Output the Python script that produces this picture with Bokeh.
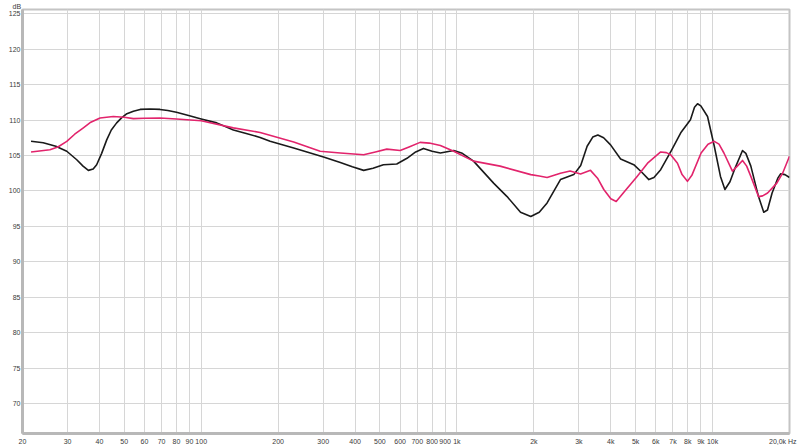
from bokeh.plotting import figure
from bokeh.models import FixedTicker
from bokeh.embed import file_html
from bokeh.resources import INLINE

# ---- data ----
x_ticks = [20, 30, 40, 50, 60, 70, 80, 90, 100, 200, 300, 400, 500, 600, 700, 800, 900,
           1000, 2000, 3000, 4000, 5000, 6000, 7000, 8000, 9000, 10000, 20000]
x_tick_labels = ["20", "30", "40", "50", "60", "70", "80", "90", "100", "200", "300", "400",
                 "500", "600", "700", "800", "900", "1k", "2k", "3k", "4k", "5k", "6k", "7k",
                 "8k", "9k", "10k", "20,0k Hz\u00a0\u00a0"]
y_ticks = [70, 75, 80, 85, 90, 95, 100, 105, 110, 115, 120, 125]
y_unit = "dB"

black_f = [21.6, 24.1, 27.0, 29.8, 32.6, 34.5, 36.2, 37.8, 39, 40.8, 42.7, 44.5, 46.7, 48.8,
           51.2, 54.3, 57.7, 63, 69, 74, 80, 90, 100, 115, 133.6, 150, 170, 186, 230, 301,
           350, 390, 432, 470, 516, 582, 638, 690, 740, 800, 862, 972, 1050, 1162, 1392, 1572,
           1774, 1946, 2100, 2254, 2542, 2866, 3050, 3232, 3400, 3560, 3750, 3992, 4370, 4920,
           5300, 5636, 5900, 6268, 6900, 7510, 8196, 8500, 8736, 9000, 9560, 10160, 10740,
           11180, 11700, 12180, 13100, 13500, 14120, 15130, 15860, 16400, 17100, 18000, 18460,
           19200, 20000]
black_db = [107.0, 106.8, 106.3, 105.6, 104.4, 103.5, 102.9, 103.1, 103.7, 105.3, 107.2, 108.6,
            109.6, 110.3, 110.9, 111.25, 111.5, 111.55, 111.5, 111.35, 111.1, 110.6, 110.15,
            109.6, 108.6, 108.1, 107.55, 107.0, 106.05, 104.8, 104.0, 103.4, 102.9, 103.2,
            103.7, 103.8, 104.6, 105.5, 106.0, 105.6, 105.35, 105.7, 105.3, 104.2, 101.1, 99.2,
            97.0, 96.4, 97.0, 98.3, 101.6, 102.3, 103.6, 106.3, 107.6, 107.9, 107.5, 106.5,
            104.5, 103.7, 102.6, 101.6, 101.9, 103.0, 105.7, 108.2, 110.05, 111.8, 112.3, 112.0,
            110.5, 106.3, 102.05, 100.2, 101.3, 103.0, 105.7, 105.3, 103.5, 99.2, 97.0, 97.3,
            99.7, 101.8, 102.4, 102.3, 101.9]

pink_f = [21.6, 25.6, 27.5, 29.8, 32, 34.6, 37, 40.2, 45.3, 50, 54.3, 60, 69, 80, 100, 133.6,
          170, 230, 292, 350, 432, 480, 532, 600, 650, 718, 780, 862, 972, 1162, 1476, 1946,
          2100, 2254, 2542, 2774, 3046, 3332, 3550, 3756, 4000, 4200, 4500, 5070, 5600, 6268,
          6600, 6860, 7292, 7600, 7976, 8300, 9020, 9600, 10160, 10600, 11080, 11960, 12500,
          13100, 13600, 14120, 15130, 15700, 16420, 17840, 18800, 20000]
pink_db = [105.5, 105.8, 106.2, 107.0, 108.0, 108.9, 109.7, 110.3, 110.5, 110.4, 110.2, 110.25,
           110.3, 110.15, 109.9, 108.9, 108.25, 106.9, 105.6, 105.35, 105.1, 105.5, 105.9, 105.7,
           106.2, 106.85, 106.75, 106.4, 105.6, 104.2, 103.5, 102.3, 102.1, 101.9, 102.5, 102.8,
           102.4, 102.9, 101.8, 100.2, 98.9, 98.5, 99.8, 102.05, 104.0, 105.5, 105.4, 105.1,
           103.9, 102.3, 101.35, 102.2, 105.35, 106.6, 107.0, 106.6, 105.35, 102.8, 103.5, 104.3,
           103.5, 102.05, 99.2, 99.3, 99.7, 101.1, 102.5, 104.9]

FONT = "Liberation Sans"
LABEL_COLOR = "#3a3a3a"
GRID = "#d6d6d6"
AXIS = "#b8b8b8"

p = figure(width=800, height=447, x_axis_type="log", x_range=(20, 20000),
           y_range=(65.77, 125.6), output_backend="svg", toolbar_location=None,
           min_border_left=22, min_border_right=11, min_border_top=0, min_border_bottom=13,
           background_fill_color="white", border_fill_color="white")

p.title.text = y_unit
p.title.align = "left"
p.title.offset = -10
p.title.standoff = 0
p.title.text_font = FONT
p.title.text_font_size = "7px"
p.title.text_font_style = "normal"
p.title.text_color = LABEL_COLOR

p.outline_line_color = "#c4c4c4"
p.outline_line_width = 2

p.xaxis.ticker = FixedTicker(ticks=x_ticks)
p.xaxis.major_label_overrides = {t: l for t, l in zip(x_ticks, x_tick_labels)}
p.yaxis.ticker = FixedTicker(ticks=y_ticks)
p.xgrid.ticker = FixedTicker(ticks=x_ticks)
p.ygrid.ticker = FixedTicker(ticks=y_ticks)

for ax in (p.xaxis, p.yaxis):
    ax.major_tick_line_color = None
    ax.minor_tick_line_color = None
    ax.axis_line_color = AXIS
    ax.axis_line_width = 3
    ax.major_label_text_font = FONT
    ax.major_label_text_font_size = "7px"
    ax.major_label_text_color = LABEL_COLOR
    ax.major_tick_out = 0
    ax.major_tick_in = 0
p.xaxis.major_label_standoff = 4
p.yaxis.major_label_standoff = 2

p.xgrid.grid_line_color = GRID
p.ygrid.grid_line_color = GRID
p.xgrid.grid_line_width = 1
p.ygrid.grid_line_width = 1

p.line(black_f, black_db, line_color="#1a1a1a", line_width=1.6, line_join="round")
p.line(pink_f, pink_db, line_color="#e2246c", line_width=1.6, line_join="round")

open("out.html", "w").write(file_html(p, INLINE))
